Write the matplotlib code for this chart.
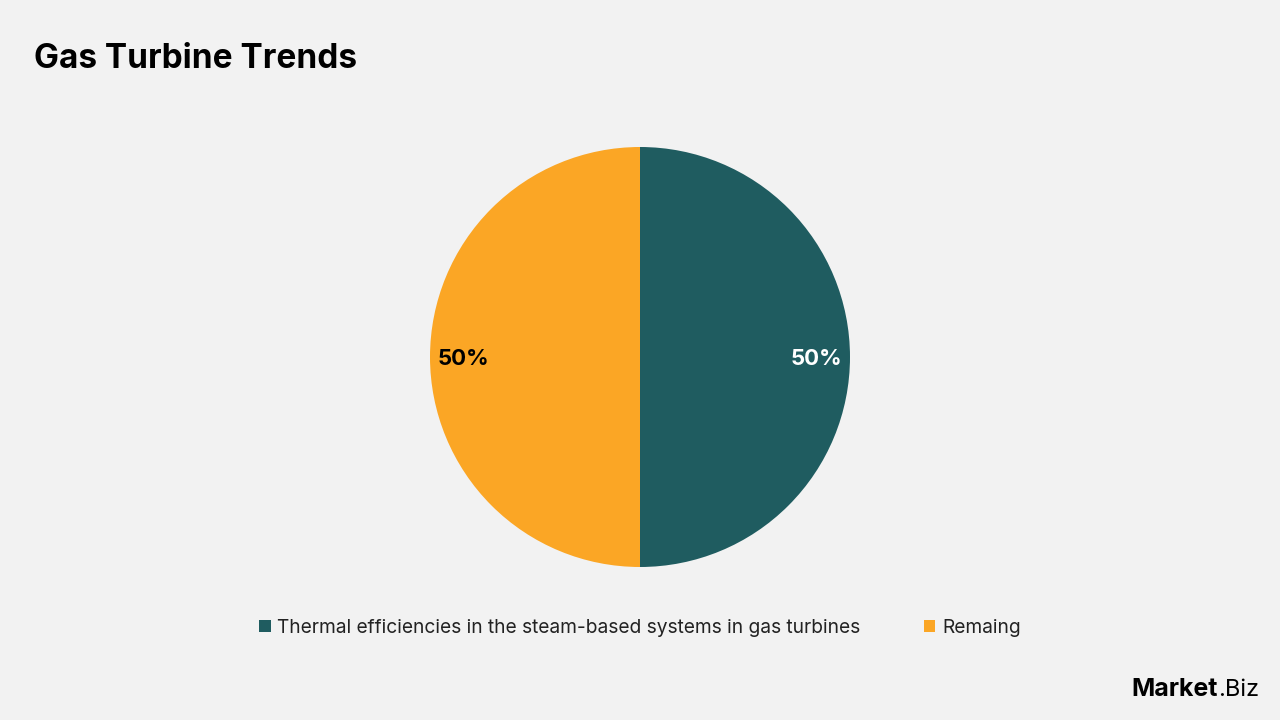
import matplotlib.pyplot as plt

labels = ["Thermal efficiencies in the steam-based systems in gas turbines", "Remaing"]
values = [50, 50]
colors = ["#1F5C60", "#FBA625"]
pct_colors = ["white", "black"]

bg = "#F2F2F2"
plt.rcParams['font.family'] = ['Inter', 'DejaVu Sans']

fig = plt.figure(figsize=(12.8, 7.2), dpi=100, facecolor=bg)
ax = fig.add_axes([430 / 1280, (720 - 567) / 720, 420 / 1280, 420 / 720])
ax.set_facecolor(bg)

wedges, texts, autotexts = ax.pie(values, colors=colors, startangle=90, counterclock=False,
                                  autopct='%1.0f%%', pctdistance=0.84, radius=1.0,
                                  wedgeprops=dict(linewidth=0))
for t, c in zip(autotexts, pct_colors):
    t.set_color(c)
    t.set_fontsize(16)
    t.set_fontweight('bold')
    t.set_y(t.get_position()[1] - 0.01)
ax.set_xlim(-1, 1)
ax.set_ylim(-1, 1)
ax.set_aspect('equal')

fig.text(34 / 1280, 1 - 59 / 720, "Gas Turbine Trends", fontsize=24, fontweight='bold',
         va='center', ha='left', color='black')

leg = fig.legend(wedges, labels, loc='center', bbox_to_anchor=(0.5, 1 - 628 / 720), ncol=2,
                 frameon=False, fontsize=13.8, handlelength=0.6, handleheight=0.6,
                 handletextpad=0.35, columnspacing=3.3)
for txt in leg.get_texts():
    txt.set_color('#222222')

fig.text(1218 / 1280, 1 - 690 / 720, "Market", fontsize=18, fontweight='bold', va='center', ha='right')
fig.text(1218 / 1280, 1 - 690 / 720, ".Biz", fontsize=17, va='center', ha='left')

fig.savefig("out.png", dpi=100, facecolor=bg)
